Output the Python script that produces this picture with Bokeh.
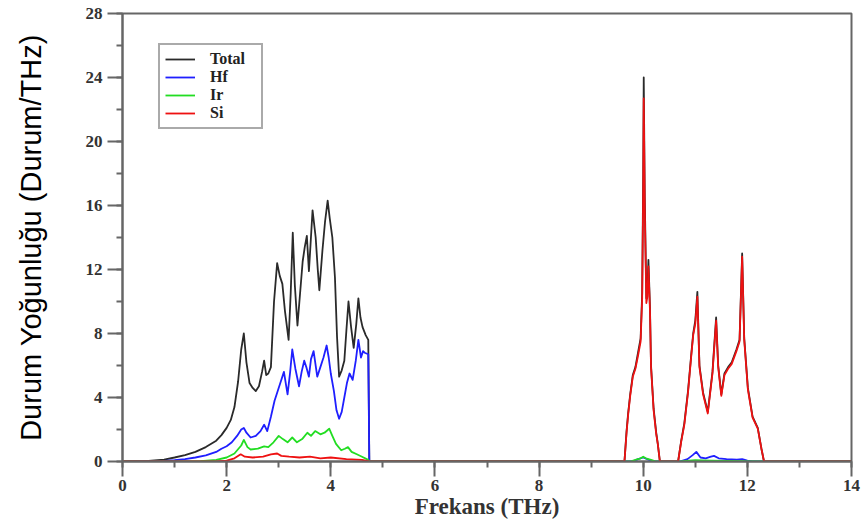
from bokeh.plotting import figure
from bokeh.models import Range1d, SingleIntervalTicker, Legend, LegendItem
from bokeh.embed import file_html
from bokeh.resources import INLINE

# ---- data (frequency in THz, DOS in states/THz) ----
freq_total = [0.0, 0.5, 0.8, 1.0, 1.2, 1.4, 1.6, 1.8, 1.9, 2.0, 2.08, 2.15, 2.22, 2.28, 2.33, 2.38, 2.44, 2.5,
              2.56, 2.62, 2.68, 2.72, 2.76, 2.8, 2.85, 2.91, 2.97, 3.02, 3.07, 3.12, 3.19, 3.23, 3.27, 3.31,
              3.36, 3.41, 3.46, 3.5, 3.54, 3.58, 3.61, 3.65, 3.71, 3.75, 3.78, 3.84, 3.89, 3.94, 3.98, 4.03,
              4.08, 4.12, 4.16, 4.21, 4.26, 4.3, 4.34, 4.39, 4.44, 4.49, 4.53, 4.57, 4.61, 4.67, 4.72, 4.74,
              9.64, 9.68, 9.71, 9.75, 9.8, 9.85, 9.9, 9.95, 9.98, 10.0, 10.01, 10.03, 10.06, 10.08, 10.1,
              10.13, 10.15, 10.2, 10.25, 10.28, 10.32, 10.67, 10.73, 10.79, 10.86, 10.92, 10.96, 11.0, 11.04,
              11.08, 11.15, 11.24, 11.33, 11.4, 11.44, 11.5, 11.56, 11.63, 11.7, 11.79, 11.85, 11.9, 11.94,
              12.01, 12.1, 12.2, 12.27, 12.32, 14.0]
dos_total = [0, 0.03, 0.12, 0.25, 0.4, 0.6, 0.9, 1.3, 1.65, 2.1, 2.6, 3.4, 5.0, 7.0, 8.0, 6.2, 4.9, 4.6,
             4.4, 4.7, 5.6, 6.3, 5.4, 5.5, 5.9, 10.0, 12.4, 11.6, 11.1, 9.4, 7.6, 10.5, 14.3, 11.0,
             8.5, 10.5, 12.5, 13.4, 14.1, 11.9, 13.5, 15.7, 14.0, 12.0, 10.7, 13.2, 15.0, 16.3, 15.2, 14.0,
             11.5, 7.8, 5.3, 5.7, 6.3, 8.2, 10.0, 8.4, 7.1, 8.6, 10.2, 9.0, 8.4, 7.9, 7.6, 0,
             0, 1.9, 3.0, 4.2, 5.4, 5.9, 6.8, 7.7, 10.5, 18.0, 24.0, 16.5, 10.2, 10.6, 12.6,
             9.6, 6.0, 3.3, 1.8, 1.1, 0, 0, 1.3, 2.4, 4.4, 6.6, 8.0, 8.8, 10.6,
             6.0, 4.3, 3.1, 5.6, 9.0, 6.0, 4.2, 5.5, 5.9, 6.2, 7.0, 7.6, 13.0, 7.7,
             4.6, 2.8, 2.1, 0.8, 0, 0]

freq_hf = [0.0, 0.8, 1.0, 1.2, 1.4, 1.6, 1.8, 1.9, 2.0, 2.1, 2.2, 2.28, 2.33, 2.38, 2.46, 2.56, 2.65, 2.72,
           2.78, 2.85, 2.92, 2.97, 3.04, 3.1, 3.17, 3.22, 3.26, 3.32, 3.39, 3.44, 3.49, 3.53, 3.58, 3.62,
           3.67, 3.74, 3.8, 3.86, 3.92, 3.96, 4.0, 4.06, 4.11, 4.16, 4.21, 4.26, 4.31, 4.36, 4.42, 4.48,
           4.53, 4.58, 4.62, 4.65, 4.72, 4.74, 9.8, 9.9, 10.0, 10.1, 10.2, 10.7, 10.85, 10.95, 11.02,
           11.1, 11.2, 11.3, 11.36, 11.45, 11.6, 11.8, 11.9, 12.0, 12.1, 14.0]
dos_hf = [0, 0.03, 0.08, 0.15, 0.25, 0.38, 0.6, 0.8, 0.95, 1.2, 1.6, 2.0, 2.1, 1.8, 1.5, 1.6, 1.9, 2.3,
          1.9, 2.8, 3.8, 4.3, 5.0, 5.6, 4.2, 5.6, 7.0, 5.8, 4.7, 5.6, 6.3, 5.9, 5.3, 6.4,
          6.9, 5.3, 5.9, 6.5, 7.25, 6.5, 5.5, 4.4, 3.2, 2.67, 3.1, 4.0, 4.9, 5.5, 5.1, 6.3,
          7.6, 6.5, 6.9, 6.8, 6.7, 0, 0, 0.15, 0.25, 0.12, 0, 0, 0.15, 0.4, 0.6,
          0.25, 0.2, 0.3, 0.35, 0.2, 0.15, 0.12, 0.15, 0.05, 0, 0]

freq_ir = [0.0, 1.5, 1.8, 2.0, 2.15, 2.28, 2.33, 2.4, 2.46, 2.6, 2.72, 2.8, 2.9, 3.0, 3.08, 3.17, 3.26,
           3.35, 3.45, 3.55, 3.62, 3.7, 3.8, 3.88, 3.97, 4.03, 4.1, 4.2, 4.27, 4.33, 4.4, 4.5, 4.6, 4.72,
           4.74, 9.75, 9.85, 9.95, 10.0, 10.05, 10.15, 10.25, 10.7, 11.0, 11.3, 12.2, 14.0]
dos_ir = [0, 0.02, 0.1, 0.25, 0.5, 1.0, 1.35, 0.9, 0.75, 0.8, 0.95, 0.9, 1.2, 1.6, 1.4, 1.2, 1.5,
          1.2, 1.4, 1.8, 1.6, 1.9, 1.7, 1.8, 2.05, 1.6, 1.1, 0.7, 0.8, 0.9, 0.6, 0.45, 0.3, 0.1,
          0, 0, 0.1, 0.2, 0.3, 0.2, 0.1, 0, 0, 0.08, 0.05, 0, 0]

freq_si = [0.0, 1.8, 2.0, 2.15, 2.27, 2.35, 2.5, 2.7, 2.85, 2.97, 3.05, 3.2, 3.4, 3.6, 3.8, 4.0, 4.3, 4.6,
           4.74, 9.64, 9.68, 9.71, 9.75, 9.8, 9.85, 9.9, 9.95, 9.98, 10.0, 10.01, 10.03, 10.06, 10.08,
           10.1, 10.13, 10.15, 10.2, 10.25, 10.28, 10.32, 10.67, 10.73, 10.79, 10.86, 10.92, 10.96,
           11.0, 11.04, 11.08, 11.15, 11.24, 11.33, 11.4, 11.44, 11.5, 11.56, 11.63, 11.7, 11.79,
           11.85, 11.9, 11.94, 12.01, 12.1, 12.2, 12.27, 12.32, 14.0]
dos_si = [0, 0, 0.05, 0.2, 0.45, 0.3, 0.25, 0.3, 0.45, 0.5, 0.35, 0.3, 0.25, 0.3, 0.2, 0.25, 0.15, 0.1,
          0, 0, 1.8, 2.9, 4.1, 5.3, 5.8, 6.6, 7.5, 10.2, 17.0, 22.7, 15.8, 9.9, 10.3,
          12.2, 9.4, 5.9, 3.2, 1.7, 1.1, 0, 0, 1.25, 2.3, 4.3, 6.5, 7.9,
          8.6, 10.3, 5.9, 4.2, 3.0, 5.5, 8.8, 5.9, 4.1, 5.4, 5.8, 6.1, 6.9,
          7.5, 12.8, 7.6, 4.5, 2.75, 2.05, 0.8, 0, 0]

series_names = ["Total", "Hf", "Ir", "Si"]
series_colors = ["#2a2a2a", "#1f1fff", "#22dd22", "#ee1111"]

x_label = "Frekans (THz)"
y_label = "Durum Yoğunluğu (Durum/THz)"

# ---- figure ----
p = figure(width=864, height=526, output_backend="svg", toolbar_location=None,
           x_range=Range1d(0, 14), y_range=Range1d(0, 28),
           min_border_left=122, min_border_right=13, min_border_top=13, min_border_bottom=65)
p.grid.visible = False
p.background_fill_color = "white"
p.border_fill_color = "white"
p.outline_line_color = "#666666"
p.outline_line_width = 2

serif = "Liberation Serif"
axis_color = "#666666"

p.xaxis.ticker = SingleIntervalTicker(interval=2, num_minor_ticks=2)
p.yaxis.ticker = SingleIntervalTicker(interval=4, num_minor_ticks=2)
for ax in (p.xaxis[0], p.yaxis[0]):
    ax.axis_line_color = axis_color
    ax.axis_line_width = 2
    ax.major_tick_line_color = axis_color
    ax.minor_tick_line_color = axis_color
    ax.major_tick_line_width = 2
    ax.minor_tick_line_width = 2
    ax.major_tick_in = 0
    ax.major_tick_out = 15
    ax.minor_tick_in = 0
    ax.minor_tick_out = 6
    ax.major_label_text_font = serif
    ax.major_label_text_font_size = "17px"
    ax.major_label_text_font_style = "bold"
    ax.major_label_text_color = "#333333"

p.yaxis.major_label_standoff = 5
p.xaxis.major_label_standoff = 3

p.xaxis.axis_label = x_label
p.xaxis.axis_label_text_font = serif
p.xaxis.axis_label_text_font_size = "23px"
p.xaxis.axis_label_text_font_style = "bold"
p.xaxis.axis_label_text_color = "#333333"
p.xaxis.axis_label_standoff = 0

p.yaxis.axis_label = y_label
p.yaxis.axis_label_text_font = "Liberation Sans"
p.yaxis.axis_label_text_font_size = "29px"
p.yaxis.axis_label_text_font_style = "normal"
p.yaxis.axis_label_text_color = "#000000"
p.yaxis.axis_label_standoff = 36

renderers = []
for fx, fy, c in zip([freq_total, freq_hf, freq_ir, freq_si],
                     [dos_total, dos_hf, dos_ir, dos_si], series_colors):
    r = p.line(fx, fy, line_color=c, line_width=1.8, line_join="round")
    renderers.append(r)

legend = Legend(items=[LegendItem(label=n, renderers=[r]) for n, r in zip(series_names, renderers)],
                location=(36, 332))
legend.label_text_font = serif
legend.label_text_font_size = "16px"
legend.label_text_font_style = "bold"
legend.label_text_color = "#222222"
legend.glyph_width = 30
legend.glyph_height = 18
legend.label_height = 18
legend.label_width = 46
legend.label_standoff = 15
legend.spacing = 0
legend.padding = 5
legend.margin = 0
legend.border_line_color = "#555555"
legend.border_line_width = 2
legend.background_fill_alpha = 1.0
p.add_layout(legend)

open("out.html", "w").write(file_html(p, INLINE))
